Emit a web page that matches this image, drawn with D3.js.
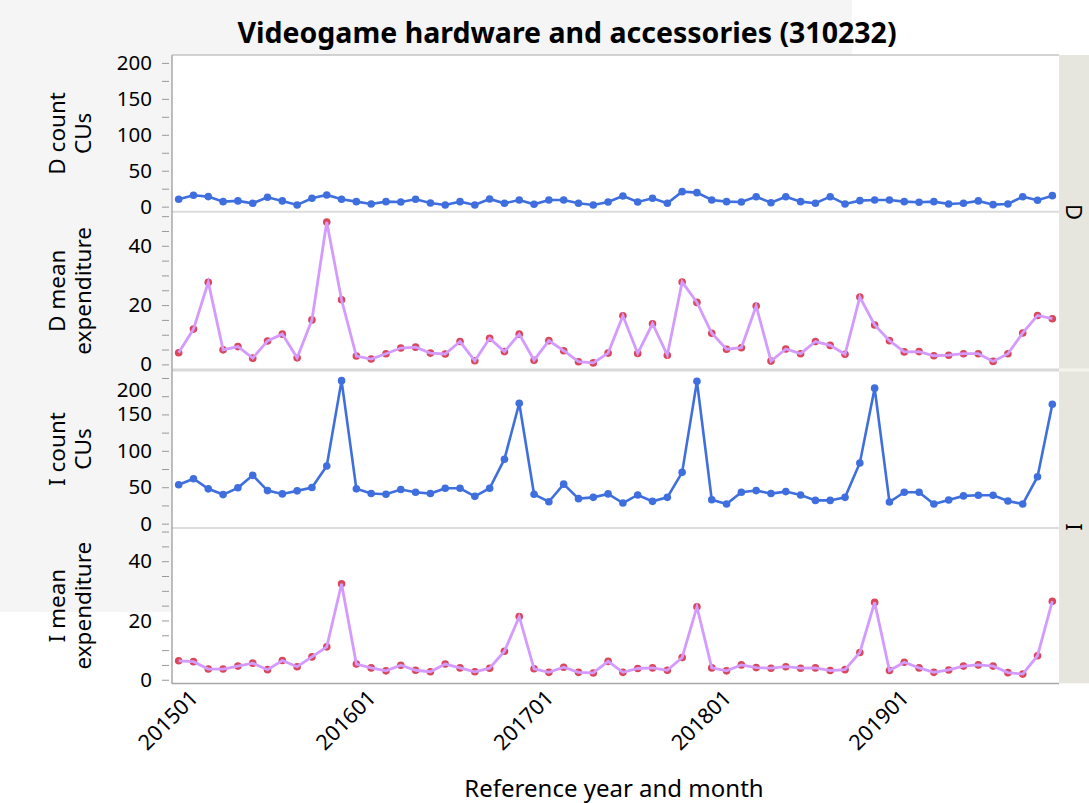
<!DOCTYPE html>
<html>
<head>
<meta charset="utf-8">
<script src="https://cdn.jsdelivr.net/npm/d3@7"></script>
<style>
  body { margin: 0; background: #fff; }
  text { font-family: "Noto Sans", "Open Sans", sans-serif; fill: #000; }
</style>
</head>
<body>
<div id="graph"></div>
<script>
const months = [
  '201501','201502','201503','201504','201505','201506','201507','201508','201509','201510','201511','201512',
  '201601','201602','201603','201604','201605','201606','201607','201608','201609','201610','201611','201612',
  '201701','201702','201703','201704','201705','201706','201707','201708','201709','201710','201711','201712',
  '201801','201802','201803','201804','201805','201806','201807','201808','201809','201810','201811','201812',
  '201901','201902','201903','201904','201905','201906','201907','201908','201909','201910','201911','201912'
];
const xTickLabels = ['201501', '201601', '201701', '201801', '201901'];

const dCount = [10.3,15.9,14,7,8,4.7,13,8,2.4,11.7, 16.3,10.3,7,3.8,7,6.5,10.3,5.2,2.4,7,
  2.4,10.7,4.7,9.3,3.3,9.3,9.3,4.7,2.4,6.5, 14.9,6.5,11.7,4.7,20.9,19.5,9.3,7,6.5,13.9,
  5.5,13.9,7,4.7,13.9,3.8,8.4,9.3,9.3,7, 6.1,7,3.8,4.7,8,2.8,3.8,13.9,8.9,15.3];
const dMean = [3.9,11.9,27.7,4.9,6.0,2.1,7.9,10.2,2.2,15.0, 48.0,21.8,2.8,1.8,3.6,5.5,5.8,3.8,3.5,7.7,
  1.2,8.8,4.3,10.2,1.4,8.0,4.6,0.9,0.5,3.8, 16.4,3.7,13.7,3.1,27.8,20.9,10.5,5.1,5.6,19.7,
  1.1,5.2,3.6,7.7,6.4,3.4,22.7,13.3,8.0,4.2, 4.3,2.9,3.1,3.6,3.6,1.0,3.6,10.6,16.5,15.4];
const iCount = [53.3,61.7,47.8,39.9,49.2,66.3,45.4,40.8,45,49.6, 79.2,196.4,47.8,41.3,40.3,46.8,43.1,41.3,48.6,48.6,
  37.5,48.6,88.5,165.3,40.3,30.1,54.2,34.3,36.1,40.8, 28.3,39.4,30.6,36.1,70.4,195.4,32.9,26.9,43.1,45.4,
  41.3,44,39.4,31.9,31.9,36.1,83.3,186.1,29.7,43.1, 43.1,26.9,32.5,38.1,38.9,38.9,31.1,26.9,64.4,163.9];
const iMean = [6.4,6.1,3.6,3.6,4.6,5.6,3.4,6.5,4.4,7.7, 11.1,32.4,5.3,4.0,3.0,4.9,3.2,2.7,5.3,4.0,
  2.7,3.9,9.6,21.3,3.7,2.5,4.2,2.5,2.3,6.2, 2.5,3.8,4.0,3.2,7.5,24.6,4.0,3.0,5.0,4.1,
  3.9,4.4,3.9,4.0,3.1,3.4,9.2,26.1,3.1,5.9, 4.0,2.5,3.3,4.6,5.0,4.6,2.4,1.9,8.1,26.5];

const W = 1089, H = 803;
const left = 172, right = 1059;

const svg = d3.select('#graph').append('svg')
  .attr('width', W)
  .attr('height', H);

// light gray window backdrop behind title and left margin
svg.append('rect').attr('x', 0).attr('y', 0).attr('width', 852).attr('height', 612).attr('fill', '#f5f5f5');

const x = d3.scalePoint().domain(months).range([left, right]).padding(0.45);

const panels = [
  {values: dCount, kind: 'count', lines: ['D count', 'CUs'], top: 55, bottom: 211.7, domain: [-7, 211]},
  {values: dMean, kind: 'mean', lines: ['D mean', 'expenditure'], top: 211.7, bottom: 370, domain: [-1.9, 51.5]},
  {values: iCount, kind: 'count', lines: ['I count', 'CUs'], top: 370, bottom: 528, domain: [-6, 211]},
  {values: iMean, kind: 'mean', lines: ['I mean', 'expenditure'], top: 528, bottom: 683.3, domain: [-1.2, 51.2]}
];

// plot background
svg.append('rect').attr('x', left).attr('y', 55).attr('width', right - left).attr('height', 683.3 - 55).attr('fill', '#fff');

// right strip (group labels)
svg.append('rect').attr('x', right).attr('y', 55).attr('width', W - right).attr('height', 683.3 - 55).attr('fill', '#e6e6de');
svg.append('line').attr('x1', right).attr('x2', W).attr('y1', 370).attr('y2', 370).attr('stroke', '#f4f4ef').attr('stroke-width', 3);
svg.append('text').attr('transform', 'translate(1066,' + 212 + ') rotate(90)')
  .attr('text-anchor', 'middle').attr('font-size', 22).text('D');
svg.append('text').attr('transform', 'translate(1066,' + 527 + ') rotate(90)')
  .attr('text-anchor', 'middle').attr('font-size', 22).text('I');

panels.forEach((p, k) => {
  const y = d3.scaleLinear().domain(p.domain).range([p.bottom, p.top]);
  const step = p.kind === 'count' ? 25 : 5;
  const labelStep = p.kind === 'count' ? 50 : 20;
  const top = p.kind === 'count' ? 200 : 50;

  // y axis
  const yaxis = d3.axisLeft(y)
    .tickValues(d3.range(0, top + 1, step))
    .tickSize(7)
    .tickFormat(d => d % labelStep === 0 ? d : '');
  const g = svg.append('g')
    .attr('transform', 'translate(169,0)')
    .call(yaxis);
  g.select('.domain').remove();
  g.selectAll('line').attr('stroke', '#999');
  g.selectAll('text')
    .attr('font-size', 20.5)
    .attr('x', -17)
    .attr('y', function(d) { return k > 0 ? Math.max(0, p.top + 19.5 - y(d)) : 0; })
    .style('font-family', '"Noto Sans", sans-serif');

  // axis title (two lines, rotated)
  const cy = (p.top + p.bottom) / 2;
  p.lines.forEach((s, i) => {
    svg.append('text')
      .attr('transform', 'translate(' + (65 + i * 26) + ',' + cy + ') rotate(-90)')
      .attr('text-anchor', 'middle')
      .attr('font-size', 22.5)
      .text(s);
  });

  const line = d3.line()
    .x((d, i) => x(months[i]))
    .y(d => y(d));

  if (p.kind === 'count') {
    svg.append('path')
      .attr('d', line(p.values))
      .attr('fill', 'none')
      .attr('stroke', '#3f6fde')
      .attr('stroke-width', 2.6);
    svg.append('g').selectAll('circle')
      .data(p.values)
      .join('circle')
      .attr('cx', (d, i) => x(months[i]))
      .attr('cy', d => y(d))
      .attr('r', 3.8)
      .attr('fill', '#3f6fde');
  } else {
    svg.append('g').selectAll('circle')
      .data(p.values)
      .join('circle')
      .attr('cx', (d, i) => x(months[i]))
      .attr('cy', d => y(d))
      .attr('r', 3.8)
      .attr('fill', '#d8485a');
    svg.append('path')
      .attr('d', line(p.values))
      .attr('fill', 'none')
      .attr('stroke', '#d49bff')
      .attr('stroke-width', 2.8);
  }
});

// panel separators
svg.append('line').attr('x1', left).attr('x2', right).attr('y1', 211.7).attr('y2', 211.7).attr('stroke', '#dcdcdc').attr('stroke-width', 2);
svg.append('line').attr('x1', left).attr('x2', right).attr('y1', 370).attr('y2', 370).attr('stroke', '#d8d8d8').attr('stroke-width', 3);
svg.append('line').attr('x1', left).attr('x2', right).attr('y1', 528).attr('y2', 528).attr('stroke', '#dcdcdc').attr('stroke-width', 2);

// frame
svg.append('line').attr('x1', left).attr('x2', right).attr('y1', 55).attr('y2', 55).attr('stroke', '#a8a8a8');
svg.append('line').attr('x1', left).attr('x2', left).attr('y1', 55).attr('y2', 684).attr('stroke', '#a8a8a8').attr('stroke-width', 1.5);
svg.append('line').attr('x1', left).attr('x2', right).attr('y1', 683.5).attr('y2', 683.5).attr('stroke', '#a8a8a8').attr('stroke-width', 1.5);

// x axis
const xaxis = d3.axisBottom(x).tickValues(xTickLabels).tickSize(0);
const gx = svg.append('g')
  .attr('transform', 'translate(0,684)')
  .call(xaxis);
gx.select('.domain').remove();
gx.selectAll('text')
  .attr('font-size', 21.5)
  .attr('text-anchor', 'end')
  .attr('transform', 'translate(15,10) rotate(-45)')
  .attr('dy', '0.35em')
  .attr('y', 0)
  .style('font-family', '"Noto Sans", sans-serif');

svg.append('text')
  .attr('x', 614).attr('y', 797)
  .attr('text-anchor', 'middle')
  .attr('font-size', 24)
  .text('Reference year and month');

// title
svg.append('text')
  .attr('x', 567).attr('y', 43)
  .attr('text-anchor', 'middle')
  .attr('font-size', 28.5)
  .attr('font-weight', 'bold')
  .text('Videogame hardware and accessories (310232)');
</script>
</body>
</html>
